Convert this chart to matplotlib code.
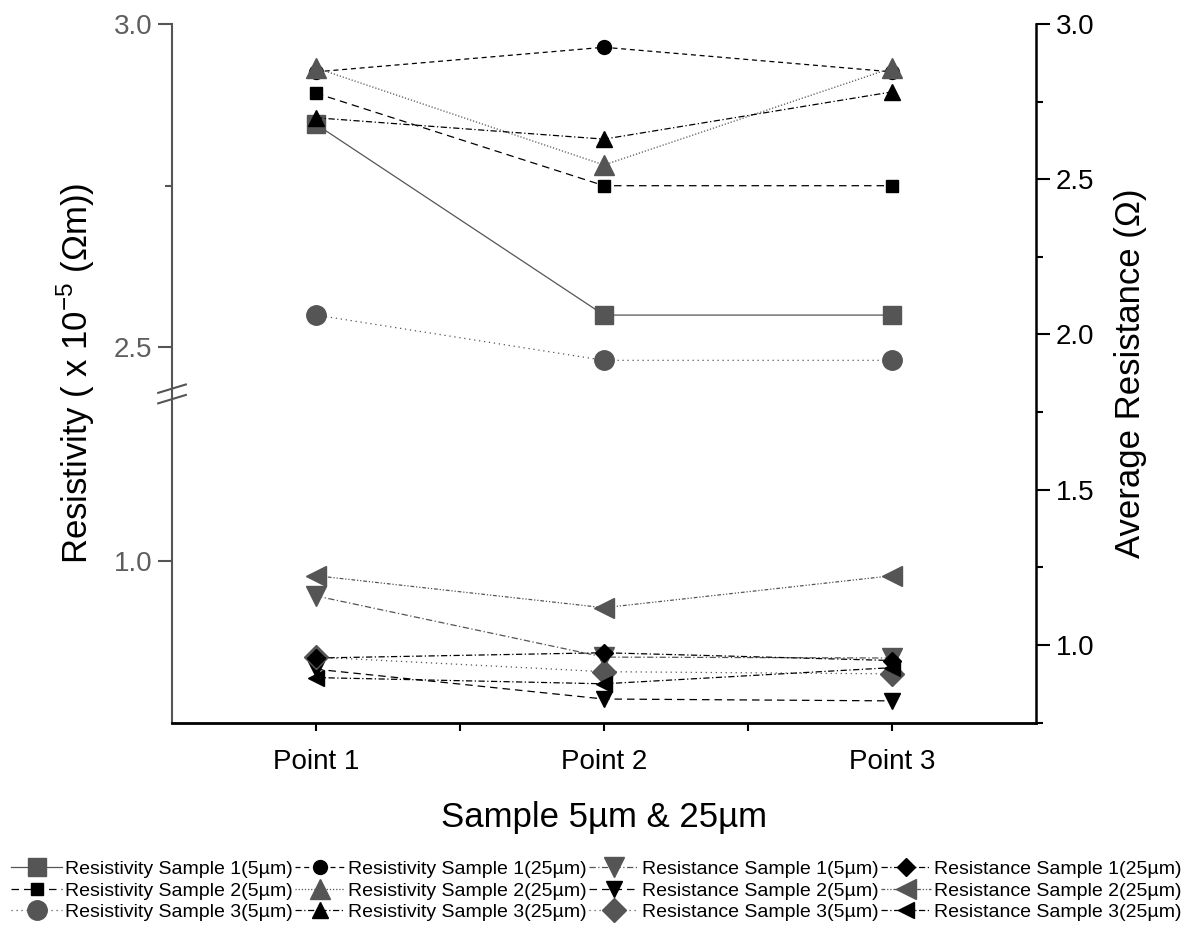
import matplotlib
matplotlib.use("Agg")
import matplotlib.pyplot as plt
import numpy as np
from matplotlib.ticker import FixedLocator, MultipleLocator

plt.rcParams['font.family'] = ['Liberation Sans', 'DejaVu Sans']

points = ["Point 1", "Point 2", "Point 3"]

# resistivity (x 1e-5 Ohm m), left axis
rho_s1_5 = [2.845, 2.55, 2.55]
rho_s2_5 = [2.893, 2.75, 2.75]
rho_s3_5 = [2.55, 2.48, 2.48]
rho_s1_25 = [2.926, 2.964, 2.926]
rho_s2_25 = [2.932, 2.782, 2.932]
rho_s3_25 = [2.855, 2.822, 2.895]

# average resistance (Ohm), right axis
res_s1_5 = [1.158, 0.961, 0.958]
res_s2_5 = [0.922, 0.826, 0.82]
res_s3_5 = [0.961, 0.914, 0.907]
res_s1_25 = [0.958, 0.975, 0.95]
res_s2_25 = [1.223, 1.120, 1.223]
res_s3_25 = [0.895, 0.875, 0.927]

GRAY = "#555555"
BREAK_LO, BREAK_HI = 1.257, 2.427
GAP = BREAK_HI - BREAK_LO


def fwd(v):
    v = np.asarray(v, dtype=float)
    return np.where(v >= BREAK_HI, v - GAP, np.minimum(v, BREAK_LO))


def inv(u):
    u = np.asarray(u, dtype=float)
    return np.where(u > BREAK_LO, u + GAP, u)


fig = plt.figure(figsize=(11.93, 9.33), dpi=100)
ax = fig.add_axes([0.1442, 0.2255, 0.7242, 0.7488])
ax2 = ax.twinx()

x = np.arange(1, 4)

# (data, label, marker, size, color, linestyle)
left_series = [
    (rho_s1_5, "Resistivity Sample 1(5µm)", "s", 13, GRAY, "-"),
    (rho_s2_5, "Resistivity Sample 2(5µm)", "s", 8, "black", (0, (6, 4))),
    (rho_s3_5, "Resistivity Sample 3(5µm)", "o", 14, GRAY, (0, (1, 3))),
    (rho_s1_25, "Resistivity Sample 1(25µm)", "o", 10, "black", (0, (4, 3))),
    (rho_s2_25, "Resistivity Sample 2(25µm)", "^", 14, GRAY, (0, (1, 1.5))),
    (rho_s3_25, "Resistivity Sample 3(25µm)", "^", 11, "black", (0, (5, 2, 1, 2))),
]
right_series = [
    (res_s1_5, "Resistance Sample 1(5µm)", "v", 14, GRAY, (0, (5, 2, 1, 2))),
    (res_s2_5, "Resistance Sample 2(5µm)", "v", 11, "black", (0, (6, 4))),
    (res_s3_5, "Resistance Sample 3(5µm)", "D", 12, GRAY, (0, (1, 3))),
    (res_s1_25, "Resistance Sample 1(25µm)", "D", 9, "black", (0, (5, 2, 1, 2))),
    (res_s2_25, "Resistance Sample 2(25µm)", "<", 14, GRAY, (0, (3, 1.5, 1, 1.5, 1, 1.5))),
    (res_s3_25, "Resistance Sample 3(25µm)", "<", 11, "black", (0, (5, 2, 1, 2))),
]

handles = []
for data, label, mk, ms, col, ls in left_series:
    h, = ax.plot(x, data, marker=mk, markersize=ms, color=col, linestyle=ls,
                 linewidth=0.9, label=label, clip_on=False)
    handles.append(h)
for data, label, mk, ms, col, ls in right_series:
    h, = ax2.plot(x, data, marker=mk, markersize=ms, color=col, linestyle=ls,
                  linewidth=0.9, label=label, clip_on=False)
    handles.append(h)

# left broken axis
ax.set_yscale("function", functions=(fwd, inv))
ax.set_ylim(0.75, 3.0)
ax.yaxis.set_major_locator(FixedLocator([1.0, 2.5, 3.0]))
ax.yaxis.set_minor_locator(FixedLocator([2.75]))
ax.set_yticklabels(["1.0", "2.5", "3.0"])
ax.set_xlim(0.5, 3.5)
ax.set_xticks(x)
ax.set_xticklabels(points)
ax.xaxis.set_minor_locator(FixedLocator([1.5, 2.5]))

ax2.set_ylim(0.75, 3.0)
ax2.yaxis.set_major_locator(MultipleLocator(0.5))
ax2.yaxis.set_minor_locator(MultipleLocator(0.25))

for a in (ax, ax2):
    a.spines["top"].set_visible(False)
ax.spines["right"].set_visible(False)
ax2.spines["left"].set_visible(False)
ax2.spines["bottom"].set_visible(False)
ax.spines["left"].set_color(GRAY)
ax.spines["left"].set_linewidth(1.5)
ax.spines["bottom"].set_linewidth(2)
ax2.spines["right"].set_linewidth(1.8)

ax.tick_params(axis="y", which="major", direction="out", length=10, width=1.5,
               color=GRAY, labelcolor="#5e5e5e", labelsize=20, pad=4)
ax.tick_params(axis="y", which="minor", direction="out", length=5, width=1.5, color=GRAY)
ax.tick_params(axis="x", which="both", direction="out", length=6, width=1.5,
               labelsize=20, pad=13)
ax2.tick_params(axis="y", which="major", direction="out", length=10, width=1.5,
                labelsize=20, pad=4)
ax2.tick_params(axis="y", which="minor", direction="out", length=5, width=1.5)

ax.set_ylabel("Resistivity ( x 10$^{\\mathregular{-5}}$ (Ωm))", fontsize=25, labelpad=12)
ax2.set_ylabel("Average Resistance (Ω)", fontsize=25, labelpad=14)
ax.set_xlabel("Sample 5µm & 25µm", fontsize=25, labelpad=19)

# break marks on the left axis
for yb in (0.478, 0.463):
    ax.plot([-0.016, 0.016], [yb - 0.006, yb + 0.006], transform=ax.transAxes,
            color=GRAY, linewidth=1.5, clip_on=False)

fig.legend(handles=handles, loc="upper center", bbox_to_anchor=(0.5, 0.088),
           ncol=4, frameon=False, fontsize=14, handlelength=2.6,
           handletextpad=0.15, columnspacing=0.1, labelspacing=0.2, borderpad=0)

fig.savefig("out.png", dpi=100)
